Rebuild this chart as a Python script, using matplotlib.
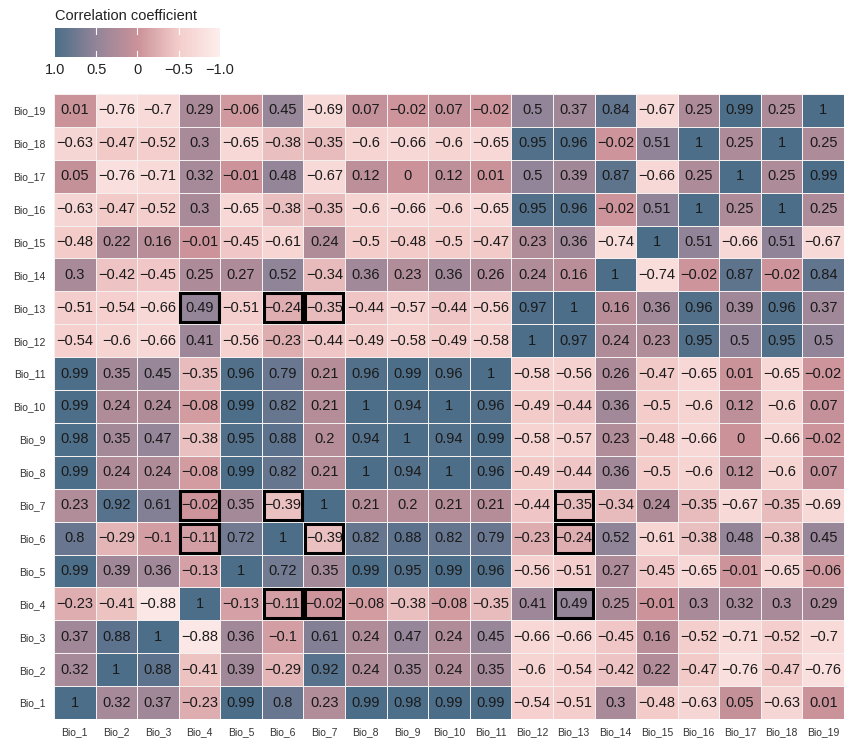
import numpy as np
import matplotlib.pyplot as plt
from matplotlib.colors import LinearSegmentedColormap
from matplotlib.patches import Rectangle

plt.rcParams['font.family'] = ['Liberation Sans', 'DejaVu Sans']

labels = ['Bio_%d' % i for i in range(1, 20)]

# rows listed from Bio_1 (bottom) to Bio_19 (top), columns Bio_1..Bio_19
bio_1 = [1, 0.32, 0.37, -0.23, 0.99, 0.8, 0.23, 0.99, 0.98, 0.99, 0.99, -0.54, -0.51, 0.3, -0.48, -0.63, 0.05, -0.63, 0.01]
bio_2 = [0.32, 1, 0.88, -0.41, 0.39, -0.29, 0.92, 0.24, 0.35, 0.24, 0.35, -0.6, -0.54, -0.42, 0.22, -0.47, -0.76, -0.47, -0.76]
bio_3 = [0.37, 0.88, 1, -0.88, 0.36, -0.1, 0.61, 0.24, 0.47, 0.24, 0.45, -0.66, -0.66, -0.45, 0.16, -0.52, -0.71, -0.52, -0.7]
bio_4 = [-0.23, -0.41, -0.88, 1, -0.13, -0.11, -0.02, -0.08, -0.38, -0.08, -0.35, 0.41, 0.49, 0.25, -0.01, 0.3, 0.32, 0.3, 0.29]
bio_5 = [0.99, 0.39, 0.36, -0.13, 1, 0.72, 0.35, 0.99, 0.95, 0.99, 0.96, -0.56, -0.51, 0.27, -0.45, -0.65, -0.01, -0.65, -0.06]
bio_6 = [0.8, -0.29, -0.1, -0.11, 0.72, 1, -0.39, 0.82, 0.88, 0.82, 0.79, -0.23, -0.24, 0.52, -0.61, -0.38, 0.48, -0.38, 0.45]
bio_7 = [0.23, 0.92, 0.61, -0.02, 0.35, -0.39, 1, 0.21, 0.2, 0.21, 0.21, -0.44, -0.35, -0.34, 0.24, -0.35, -0.67, -0.35, -0.69]
bio_8 = [0.99, 0.24, 0.24, -0.08, 0.99, 0.82, 0.21, 1, 0.94, 1, 0.96, -0.49, -0.44, 0.36, -0.5, -0.6, 0.12, -0.6, 0.07]
bio_9 = [0.98, 0.35, 0.47, -0.38, 0.95, 0.88, 0.2, 0.94, 1, 0.94, 0.99, -0.58, -0.57, 0.23, -0.48, -0.66, 0, -0.66, -0.02]
bio_10 = [0.99, 0.24, 0.24, -0.08, 0.99, 0.82, 0.21, 1, 0.94, 1, 0.96, -0.49, -0.44, 0.36, -0.5, -0.6, 0.12, -0.6, 0.07]
bio_11 = [0.99, 0.35, 0.45, -0.35, 0.96, 0.79, 0.21, 0.96, 0.99, 0.96, 1, -0.58, -0.56, 0.26, -0.47, -0.65, 0.01, -0.65, -0.02]
bio_12 = [-0.54, -0.6, -0.66, 0.41, -0.56, -0.23, -0.44, -0.49, -0.58, -0.49, -0.58, 1, 0.97, 0.24, 0.23, 0.95, 0.5, 0.95, 0.5]
bio_13 = [-0.51, -0.54, -0.66, 0.49, -0.51, -0.24, -0.35, -0.44, -0.57, -0.44, -0.56, 0.97, 1, 0.16, 0.36, 0.96, 0.39, 0.96, 0.37]
bio_14 = [0.3, -0.42, -0.45, 0.25, 0.27, 0.52, -0.34, 0.36, 0.23, 0.36, 0.26, 0.24, 0.16, 1, -0.74, -0.02, 0.87, -0.02, 0.84]
bio_15 = [-0.48, 0.22, 0.16, -0.01, -0.45, -0.61, 0.24, -0.5, -0.48, -0.5, -0.47, 0.23, 0.36, -0.74, 1, 0.51, -0.66, 0.51, -0.67]
bio_16 = [-0.63, -0.47, -0.52, 0.3, -0.65, -0.38, -0.35, -0.6, -0.66, -0.6, -0.65, 0.95, 0.96, -0.02, 0.51, 1, 0.25, 1, 0.25]
bio_17 = [0.05, -0.76, -0.71, 0.32, -0.01, 0.48, -0.67, 0.12, 0, 0.12, 0.01, 0.5, 0.39, 0.87, -0.66, 0.25, 1, 0.25, 0.99]
bio_18 = [-0.63, -0.47, -0.52, 0.3, -0.65, -0.38, -0.35, -0.6, -0.66, -0.6, -0.65, 0.95, 0.96, -0.02, 0.51, 1, 0.25, 1, 0.25]
bio_19 = [0.01, -0.76, -0.7, 0.29, -0.06, 0.45, -0.69, 0.07, -0.02, 0.07, -0.02, 0.5, 0.37, 0.84, -0.67, 0.25, 0.99, 0.25, 1]

# highlighted cells as (row label, column label)
boxed = [('Bio_13', 'Bio_4'), ('Bio_13', 'Bio_6'), ('Bio_13', 'Bio_7'),
         ('Bio_7', 'Bio_4'), ('Bio_7', 'Bio_6'), ('Bio_7', 'Bio_13'),
         ('Bio_6', 'Bio_4'), ('Bio_6', 'Bio_7'), ('Bio_6', 'Bio_13'),
         ('Bio_4', 'Bio_6'), ('Bio_4', 'Bio_7'), ('Bio_4', 'Bio_13')]

cbar_ticks = [1.0, 0.5, 0, -0.5, -1.0]
cbar_ticklabels = ['1.0', '0.5', '0', '\u22120.5', '\u22121.0']

mat = np.array([bio_1, bio_2, bio_3, bio_4, bio_5, bio_6, bio_7, bio_8, bio_9, bio_10,
                bio_11, bio_12, bio_13, bio_14, bio_15, bio_16, bio_17, bio_18, bio_19])

cmap = LinearSegmentedColormap.from_list('corr', [
    (0.0, '#fdefed'), (0.25, '#f4cdcb'), (0.5, '#cb9299'),
    (0.75, '#938599'), (1.0, '#4c6e89')])

fig = plt.figure(figsize=(8.45, 7.44), dpi=100)
ax = fig.add_axes([54 / 845, 1 - 719 / 744, 790 / 845, 625 / 744])

n = len(labels)
ax.pcolormesh(np.arange(n + 1), np.arange(n + 1), mat, cmap=cmap, vmin=-1, vmax=1,
              edgecolor='#f4f0f0', linewidth=0.6)

for i in range(n):
    for j in range(n):
        v = mat[i, j]
        s = ('%g' % v).replace('-', '\u2212')
        ax.text(j + 0.5, i + 0.5, s, ha='center', va='center', fontsize=10.5, color='#1a1a1a')

for r, c in boxed:
    i = labels.index(r)
    j = labels.index(c)
    ax.add_patch(Rectangle((j + 0.04, i + 0.06), 0.92, 0.88, fill=False,
                           edgecolor='black', linewidth=2.2, zorder=5))

ax.set_xlim(0, n)
ax.set_ylim(0, n)
ax.set_xticks(np.arange(n) + 0.5)
ax.set_yticks(np.arange(n) + 0.5)
ax.set_xticklabels(labels, fontsize=7.5, color='#333333')
ax.set_yticklabels(labels, fontsize=7.5, color='#333333')
ax.tick_params(length=0, pad=6)
for sp in ax.spines.values():
    sp.set_visible(False)

# colour key, reversed so 1.0 sits on the left
cax = fig.add_axes([55 / 845, 1 - 57 / 744, 165 / 845, 29 / 744])
grad = np.linspace(1, -1, 256).reshape(1, -1)
cax.imshow(grad, cmap=cmap, vmin=-1, vmax=1, aspect='auto', extent=[1, -1, 0, 1])
cax.set_xlim(1, -1)
for t in [0.5, 0, -0.5]:
    cax.plot([t, t], [0, 0.2], color='white', lw=0.8)
    cax.plot([t, t], [0.8, 1], color='white', lw=0.8)
cax.set_ylim(0, 1)
cax.set_yticks([])
cax.set_xticks(cbar_ticks)
cax.set_xticklabels(cbar_ticklabels, fontsize=10.5, color='#222222')
cax.tick_params(length=0, pad=4)
for sp in cax.spines.values():
    sp.set_visible(False)
fig.text(55 / 845, 1 - 16 / 744, 'Correlation coefficient', fontsize=10.5,
         va='center', ha='left', color='#222222')

fig.savefig('out.png', dpi=100)
